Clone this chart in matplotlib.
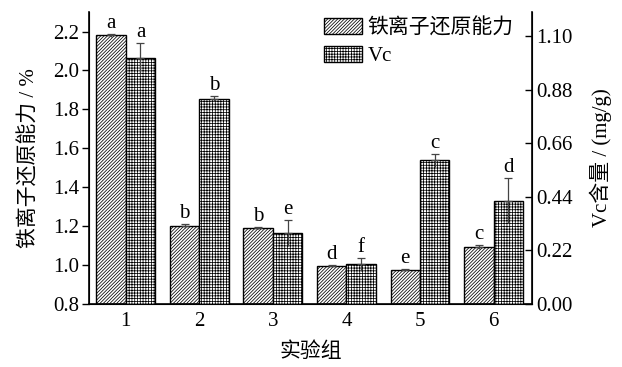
import numpy as np
import matplotlib
matplotlib.use("Agg")
import matplotlib.pyplot as plt

plt.rcParams['font.family'] = ['Liberation Serif', 'Noto Sans CJK SC']
plt.rcParams['font.size'] = 15
plt.rcParams['hatch.linewidth'] = 0.55

groups = ['1', '2', '3', '4', '5', '6']
frap = [2.18, 1.20, 1.19, 0.995, 0.976, 1.093]
frap_err = [0.008, 0.012, 0.006, 0.006, 0.003, 0.010]
frap_letters = ['a', 'b', 'b', 'd', 'e', 'c']
vc = [1.012, 0.844, 0.293, 0.162, 0.590, 0.424]
vc_err = [0.062, 0.010, 0.053, 0.027, 0.025, 0.092]
vc_letters = ['a', 'b', 'e', 'f', 'c', 'd']

x = np.arange(1, len(groups) + 1)
w = 0.4

fig = plt.figure(figsize=(6.22, 3.67), dpi=100)
ax = fig.add_axes([0.143, 0.172, 0.712, 0.795])
ax2 = ax.twinx()

ax.set_ylim(0.8, 2.3)
ax2.set_ylim(0, 1.2)
ax.set_xlim(0.5, 6.52)

b1 = ax.bar(x - w / 2, np.array(frap) - 0.8, w, bottom=0.8, color='white',
            edgecolor='black', linewidth=1.0, hatch='/' * 10, zorder=2)
b2 = ax2.bar(x + w / 2, vc, w, color='white', edgecolor='black', linewidth=1.0,
             hatch='+' * 6, zorder=2)

ecol = '#444444'
# upper caps only; the lower half of each bar runs into the hatching
ax.errorbar(x - w / 2, frap, yerr=[np.zeros(6), frap_err], fmt='none',
            ecolor=ecol, elinewidth=0.9, capsize=3, capthick=0.9, zorder=3)
ax.vlines(x - w / 2, np.array(frap) - frap_err, frap, color=ecol, lw=0.9, zorder=3)
ax2.errorbar(x + w / 2, vc, yerr=[np.zeros(6), vc_err], fmt='none',
             ecolor=ecol, elinewidth=0.9, capsize=3, capthick=0.9, zorder=3)
ax2.vlines(x + w / 2, np.array(vc) - vc_err, vc, color=ecol, lw=0.9, zorder=3)

for xi, v, e, t in zip(x - w / 2, frap, frap_err, frap_letters):
    ax.text(xi, v + e + 0.005, t, ha='center', va='bottom', fontsize=15)
for xi, v, e, t in zip(x + w / 2, vc, vc_err, vc_letters):
    ax2.text(xi, v + e + 0.004, t, ha='center', va='bottom', fontsize=15)

left_ticks = np.arange(0.8, 2.21, 0.2)
right_ticks = np.arange(0, 1.11, 0.22)
ax.set_yticks(left_ticks)
ax.set_yticklabels(['%.1f' % v for v in left_ticks])
ax2.set_yticks(right_ticks)
ax2.set_yticklabels(['%.2f' % v for v in right_ticks])
ax.set_xticks(x)
ax.set_xticklabels(groups)

ax.spines['top'].set_visible(False)
ax2.spines['top'].set_visible(False)
for s in ['left', 'bottom']:
    ax.spines[s].set_linewidth(1.2)
ax2.spines['right'].set_linewidth(1.2)
ax.tick_params(axis='y', direction='out', length=5, width=1, pad=2)
ax.tick_params(axis='x', length=0, pad=6)
ax2.tick_params(axis='y', direction='in', length=5, width=1, pad=3)

ax.set_xlabel('实验组', labelpad=8)
ax.set_ylabel('铁离子还原能力 / %', labelpad=10)
ax2.set_ylabel('Vc含量 / (mg/g)', labelpad=12)

ax2.legend([b1, b2], ['铁离子还原能力', 'Vc'], loc='upper left',
           bbox_to_anchor=(0.497, 0.99), bbox_transform=fig.transFigure,
           frameon=False, handlelength=1.85, handleheight=0.8, handletextpad=0.25,
           labelspacing=0.35, borderpad=0.2, fontsize=15)

fig.savefig('out.png', dpi=100)
